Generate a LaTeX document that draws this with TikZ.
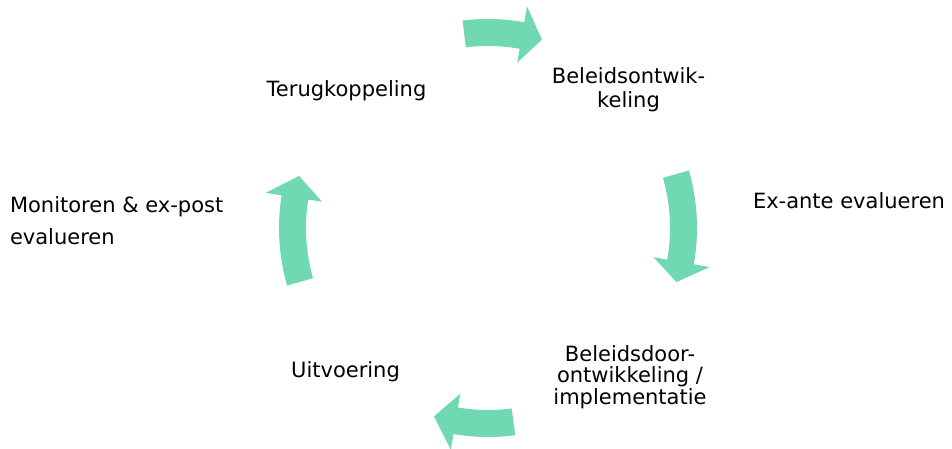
\documentclass[tikz,border=0pt]{standalone}
\usepackage{fontspec}
\setmainfont{DejaVu Sans}
\definecolor{mint}{RGB}{112,217,177}
\begin{document}
\begin{tikzpicture}[x=1pt,y=1pt,
  lbl/.style={inner sep=0pt,outer sep=0pt,font=\fontsize{21}{23.5}\selectfont},
  arr/.style={fill=mint,draw=none}]
\useasboundingbox (0,0) rectangle (952,448);
% labels (for multi-line nodes the base anchor is the last line's baseline)
\node[lbl,anchor=base] (terug) at (346.5,351) {Terugkoppeling};
\node[lbl,anchor=base,align=center] (beleid) at (628.5,341) {Beleidsontwik-\\keling};
\node[lbl,anchor=base west] (exante) at (753,240) {Ex-ante evalueren};
\node[lbl,anchor=base,align=center,font=\fontsize{21}{21.5}\selectfont] (door) at (630,44) {Beleidsdoor-\\ontwikkeling /\\implementatie};
\node[lbl,anchor=base] (uitv) at (345.5,71) {Uitvoering};
\node[lbl,anchor=base west,align=left,font=\fontsize{21}{32}\selectfont] (monit) at (10,204) {Monitoren \& ex-post\\evalueren};
% curved block arrows
\begin{scope}[shift={(488,220)}]
\foreach \t/\b/\p in {97/80/74, 16/-10/-16, -82.5/-99.5/-106, 196/171/164.6}{
  \fill[arr] (\t:209pt) arc[start angle=\t, end angle=\b, radius=209pt]
    -- (\b:225pt) -- (\p:196pt) -- (\b:168pt) -- (\b:182pt)
    arc[start angle=\b, end angle=\t, radius=182pt] -- cycle;
}
\end{scope}
\end{tikzpicture}
\end{document}
